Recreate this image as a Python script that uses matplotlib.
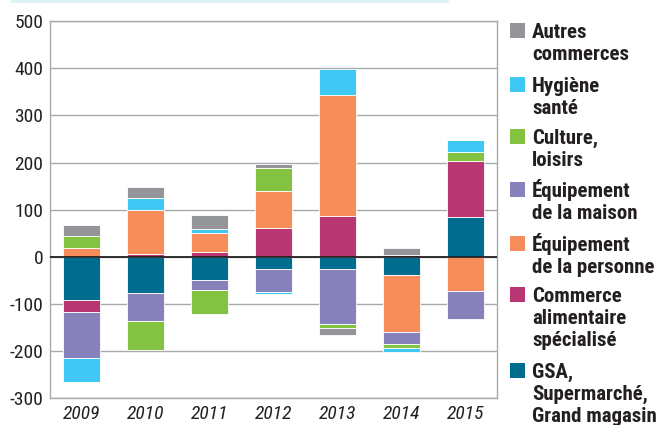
import matplotlib
matplotlib.use("Agg")
import matplotlib.pyplot as plt
import numpy as np
from matplotlib.patches import Rectangle
from matplotlib.lines import Line2D

years = ["2009", "2010", "2011", "2012", "2013", "2014", "2015"]
series_names = [
    "GSA,\nSupermarché,\nGrand magasin",
    "Commerce\nalimentaire\nspécialisé",
    "Équipement\nde la personne",
    "Équipement\nde la maison",
    "Culture,\nloisirs",
    "Hygiène\nsanté",
    "Autres\ncommerces",
]
gsa = [-91, -78, -50, -26, -26, -39, 85]
commerce_alim = [-27, 6, 10, 60, 87, 3, 119]
equip_personne = [18, 93, 41, 79, 257, -121, -73]
equip_maison = [-98, -59, -20, -49, -117, -25, -59]
culture = [27, -61, -52, 50, -8, -8, 18]
hygiene = [-50, 25, 7, -4, 54, -10, 25]
autres = [23, 24, 31, 9, -16, 15, 0]
series = [gsa, commerce_alim, equip_personne, equip_maison, culture, hygiene, autres]
colors = ["#006d8f", "#b83773", "#f68d5a", "#8882bc", "#84c341", "#3fc8f4", "#939598"]
yticks = [-300, -200, -100, 0, 100, 200, 300, 400, 500]

FONT = ["Roboto Condensed", "DejaVu Sans"]
plt.rcParams["font.family"] = FONT
plt.rcParams["font.stretch"] = "condensed"

W, H = 670, 425
fig = plt.figure(figsize=(W / 100, H / 100), dpi=100)
ax = fig.add_axes([50 / W, 1 - 398 / H, (497 - 50) / W, (398 - 21.3) / H])

x = np.arange(len(years))
pos = np.zeros(len(years))
neg = np.zeros(len(years))
for vals, c in zip(series, colors):
    v = np.array(vals, dtype=float)
    bottoms = np.where(v >= 0, pos, neg)
    ax.bar(x, v, width=0.58, bottom=bottoms, color=c, edgecolor="white",
           linewidth=0.6, zorder=3)
    pos = pos + np.where(v >= 0, v, 0)
    neg = neg + np.where(v < 0, v, 0)

ax.set_xlim(-0.5, len(years) - 0.5)
ax.set_ylim(-300, 500)
ax.set_yticks(yticks)
ax.set_yticklabels([str(t) for t in yticks], fontsize=14, color="#231f20")
ax.set_xticks(x)
ax.set_xticklabels(years, fontsize=14, style="italic", color="#231f20")
ax.tick_params(length=0, pad=5)
ax.grid(axis="y", color="#a7a9ac", linewidth=1, zorder=0)
ax.axhline(0, color="#231f20", linewidth=1.3, zorder=4)
for s in ax.spines.values():
    s.set_color("#a7a9ac")
    s.set_linewidth(1)

# top decorative line
fig.add_artist(Line2D([12 / W, 447 / W], [1 - 1 / H, 1 - 1 / H], color="#d9f3f6",
                      linewidth=2, transform=fig.transFigure))

# legend (manual)
tops = [23, 77, 129, 182, 236, 287, 363]
order = list(range(len(series)))[::-1]
for top, i in zip(tops, order):
    fig.add_artist(Rectangle((510 / W, 1 - (top + 15) / H), 15 / W, 15 / H,
                             facecolor=colors[i], edgecolor="none",
                             transform=fig.transFigure))
    for k, line in enumerate(series_names[i].split("\n")):
        fig.text(532 / W, 1 - (top + 15 + 22 * k) / H, line, fontsize=15,
                 fontweight="bold", va="baseline", ha="left", color="#231f20")

fig.savefig("out.png", dpi=100)
